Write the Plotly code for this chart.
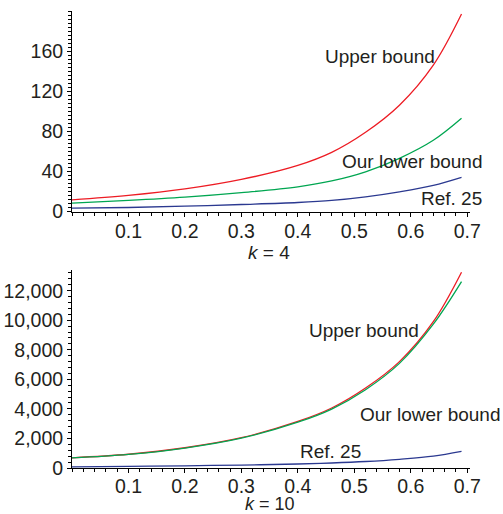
import plotly.graph_objects as go

# ---- data ----
x_vals = [0.0, 0.1, 0.2, 0.3, 0.4, 0.46, 0.52, 0.58, 0.64, 0.69]

k4_upper = [11.5, 16, 22.5, 32, 46, 59, 79, 106, 146, 197]
k4_lower = [8.3, 11, 14.3, 18.8, 24.6, 30.5, 39.6, 53, 71, 93]
k4_ref25 = [3.3, 4, 5.3, 7, 9, 11, 14.6, 19.6, 26, 34]

k10_upper = [690, 930, 1370, 2050, 3150, 4060, 5410, 7200, 9900, 13250]
k10_lower = [680, 920, 1350, 2020, 3100, 3990, 5300, 7080, 9730, 12610]
k10_ref25 = [70, 110, 150, 200, 270, 340, 440, 590, 800, 1120]

x_ticks = [0.1, 0.2, 0.3, 0.4, 0.5, 0.6, 0.7]
k4_yticks = [0, 40, 80, 120, 160]
k10_yticks = [0, 2000, 4000, 6000, 8000, 10000, 12000]

RED = "#ed1c24"
GREEN = "#00a651"
BLUE = "#2b3990"
TXT = "#231f20"
FONT = "Liberation Sans, Arial, sans-serif"

W, H = 503, 514

fig = go.Figure()

def add_series(xa, ya, ys, color):
    fig.add_trace(go.Scatter(x=x_vals, y=ys, mode="lines", xaxis=xa, yaxis=ya,
                             line=dict(color=color, width=1.3, shape="spline", smoothing=1),
                             showlegend=False, hoverinfo="skip"))

add_series("x", "y", k4_upper, RED)
add_series("x", "y", k4_lower, GREEN)
add_series("x", "y", k4_ref25, BLUE)
add_series("x2", "y2", k10_upper, RED)
add_series("x2", "y2", k10_lower, GREEN)
add_series("x2", "y2", k10_ref25, BLUE)

def px_x(p):
    return p / W

def px_y(p):
    return 1 - p / H

axis_common = dict(showline=True, linecolor="black", linewidth=1, ticks="outside",
                   ticklen=4, tickcolor="black", tickwidth=1, showgrid=False, zeroline=False,
                   tickfont=dict(family=FONT, size=19.5, color=TXT), automargin=False)

minor_common = dict(ticks="outside", ticklen=3, tickcolor="black")

xdom = [px_x(72), px_x(470)]
fig.update_layout(
    width=W, height=H, autosize=False,
    margin=dict(l=0, r=0, t=0, b=0),
    paper_bgcolor="white", plot_bgcolor="white",
    font=dict(family=FONT, size=19, color=TXT),
    xaxis=dict(domain=xdom, range=[0, 0.705], tickvals=x_ticks, anchor="y",
               ticklabelstandoff=-2,
               minor=dict(dtick=0.02, tick0=0, **minor_common), **axis_common),
    yaxis=dict(domain=[px_y(211.5), px_y(11)], range=[0, 200], tickvals=k4_yticks, anchor="x",
               minor=dict(dtick=4, tick0=0, **minor_common), **axis_common),
    xaxis2=dict(domain=xdom, range=[0, 0.705], tickvals=x_ticks, anchor="y2",
                ticklabelstandoff=-3,
                minor=dict(dtick=0.02, tick0=0, **minor_common), **axis_common),
    yaxis2=dict(domain=[px_y(468), px_y(270)], range=[0, 13400], tickvals=k10_yticks,
                tickformat=",d", anchor="x2",
                minor=dict(dtick=400, tick0=0, **minor_common), **axis_common),
)

ann_font = dict(family=FONT, size=19, color=TXT)
annotations = [
    dict(text="Upper bound", x=px_x(379.5), y=px_y(56.7), xanchor="center"),
    dict(text="Our lower bound", x=px_x(484), y=px_y(161), xanchor="right"),
    dict(text="Ref. 25", x=px_x(484), y=px_y(199), xanchor="right"),
    dict(text="Upper bound", x=px_x(364), y=px_y(330), xanchor="center"),
    dict(text="Our lower bound", x=px_x(502), y=px_y(414), xanchor="right"),
    dict(text="Ref. 25", x=px_x(330), y=px_y(451.7), xanchor="center"),
    dict(text="<i>k</i> = 4", x=px_x(269), y=px_y(252), xanchor="center"),
    dict(text="<i>k</i> = 10", x=px_x(270), y=px_y(504), xanchor="center",
         font=dict(family=FONT, size=18, color=TXT)),
]
for a in annotations:
    a.setdefault("font", ann_font)
    a.update(showarrow=False, xref="paper", yref="paper", yanchor="middle")
fig.update_layout(annotations=annotations)

fig.write_html("out.html", config={"displayModeBar": False},
               post_script="document.body.style.margin='0';")
